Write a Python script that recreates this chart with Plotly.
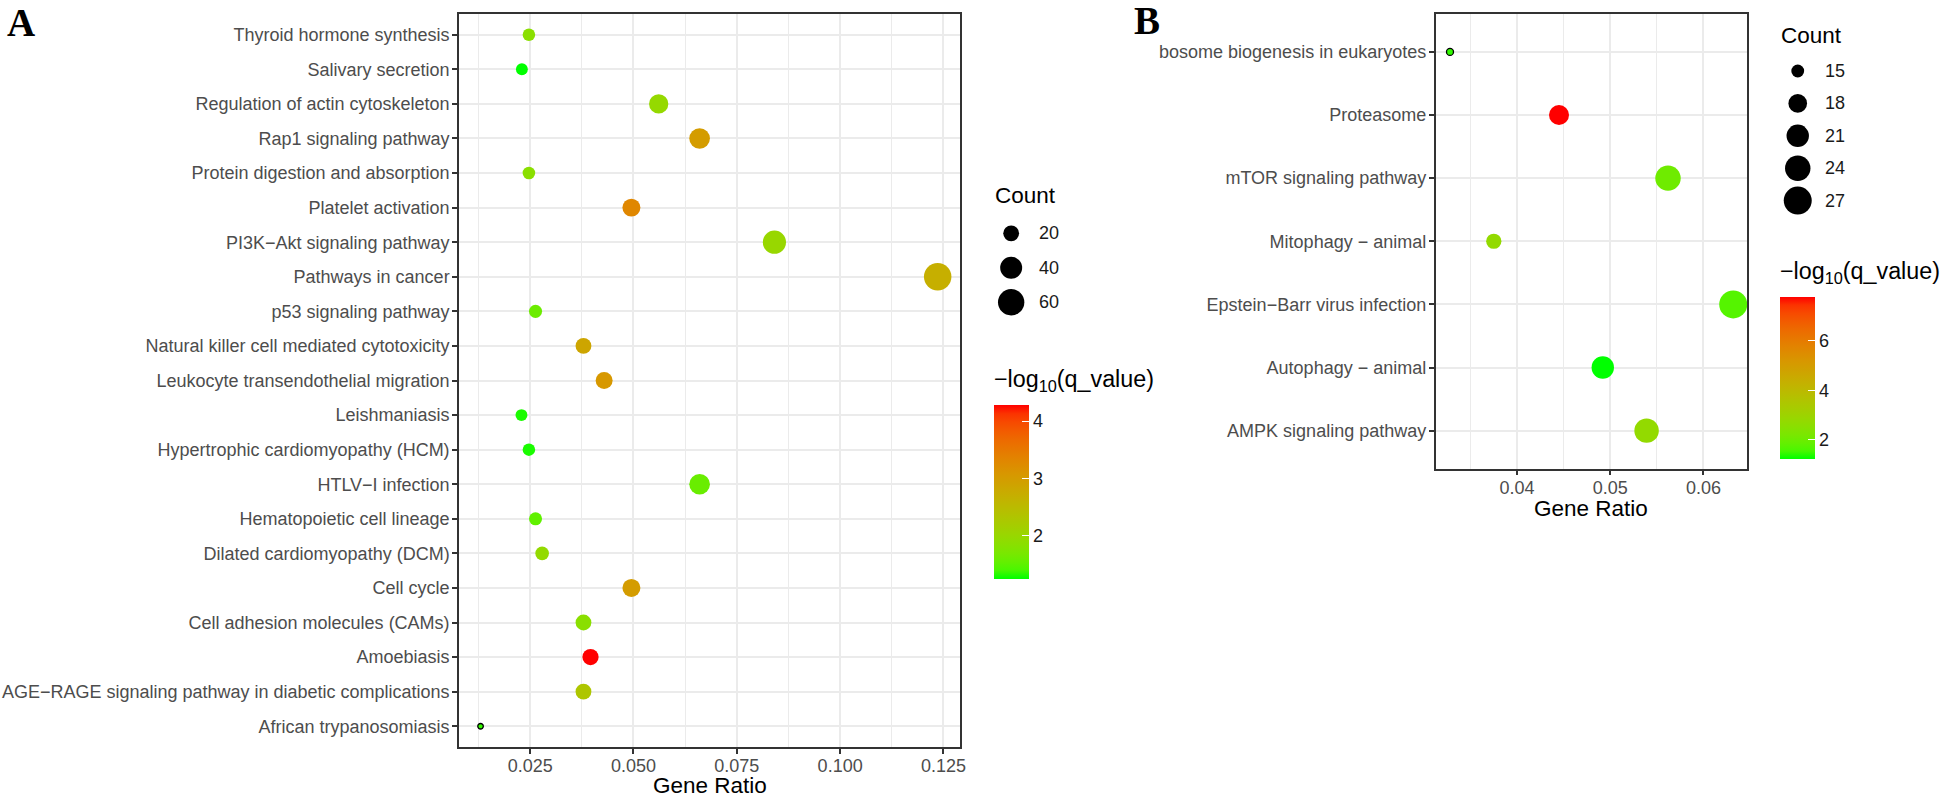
import math
import plotly.graph_objects as go

# ---------------- data ----------------
a_terms = ["Thyroid hormone synthesis", "Salivary secretion", "Regulation of actin cytoskeleton",
           "Rap1 signaling pathway", "Protein digestion and absorption", "Platelet activation",
           "PI3K\u2212Akt signaling pathway", "Pathways in cancer", "p53 signaling pathway",
           "Natural killer cell mediated cytotoxicity", "Leukocyte transendothelial migration",
           "Leishmaniasis", "Hypertrophic cardiomyopathy (HCM)", "HTLV\u2212I infection",
           "Hematopoietic cell lineage", "Dilated cardiomyopathy (DCM)", "Cell cycle",
           "Cell adhesion molecules (CAMs)", "Amoebiasis",
           "AGE\u2212RAGE signaling pathway in diabetic complications", "African trypanosomiasis"]
a_ratio = [0.0247, 0.0230, 0.0561, 0.0660, 0.0247, 0.0495, 0.0841, 0.1236, 0.0263, 0.0379, 0.0429,
           0.0229, 0.0247, 0.0660, 0.0263, 0.0279, 0.0495, 0.0379, 0.0396, 0.0379, 0.0130]
a_count = [13, 12, 30, 35, 13, 26, 45, 66, 14, 20, 23, 12, 13, 35, 14, 15, 26, 20, 21, 20, 7]
a_logq = [1.85, 1.245, 1.97, 3.0, 1.85, 3.3, 2.0, 2.7, 1.6, 2.85, 3.07, 1.3, 1.3, 1.58, 1.52, 1.95,
          3.0, 1.85, 4.28, 2.3, 1.35]
a_size_breaks = [20, 40, 60]
a_color_ticks = [2, 3, 4]
a_x_ticks = [0.025, 0.050, 0.075, 0.100, 0.125]

b_terms = ["bosome biogenesis in eukaryotes", "Proteasome", "mTOR signaling pathway",
           "Mitophagy \u2212 animal", "Epstein\u2212Barr virus infection", "Autophagy \u2212 animal",
           "AMPK signaling pathway"]
b_ratio = [0.0328, 0.0445, 0.0562, 0.0375, 0.0632, 0.0492, 0.0539]
b_count = [14, 19, 24, 16, 27, 21, 23]
b_logq = [1.45, 7.79, 2.05, 2.75, 1.7, 1.23, 2.75]
b_size_breaks = [15, 18, 21, 24, 27]
b_color_ticks = [2, 4, 6]
b_x_ticks = [0.04, 0.05, 0.06]

# ---------------- helpers ----------------
W, H = 1946, 798
FONT = "Liberation Sans, Arial, sans-serif"
TICK_SIZE = 18.0
TITLE_SIZE = 22.5


def fx(px):
    return px / W


def fy(py):
    return 1 - py / H


def _lin(c):
    c = c / 255
    return c / 12.92 if c <= 0.04045 else ((c + 0.055) / 1.055) ** 2.4


def _gam(c):
    c = 12.92 * c if c <= 0.0031308 else 1.055 * c ** (1 / 2.4) - 0.055
    return max(0, min(255, round(c * 255)))


WX, WY, WZ = 0.95047, 1.0, 1.08883


def rgb2lab(rgb):
    r, g, b = [_lin(v) for v in rgb]
    X = 0.4124 * r + 0.3576 * g + 0.1805 * b
    Y = 0.2126 * r + 0.7152 * g + 0.0722 * b
    Z = 0.0193 * r + 0.1192 * g + 0.9505 * b

    def f(t):
        return t ** (1 / 3) if t > 0.008856 else 7.787 * t + 16 / 116
    fx_, fy_, fz_ = f(X / WX), f(Y / WY), f(Z / WZ)
    return 116 * fy_ - 16, 500 * (fx_ - fy_), 200 * (fy_ - fz_)


def lab2rgb(lab):
    L, a, b = lab
    fy_ = (L + 16) / 116
    fx_ = fy_ + a / 500
    fz_ = fy_ - b / 200

    def fi(t):
        return t ** 3 if t ** 3 > 0.008856 else (t - 16 / 116) / 7.787
    X, Y, Z = WX * fi(fx_), WY * fi(fy_), WZ * fi(fz_)
    r = 3.2406 * X - 1.5372 * Y - 0.4986 * Z
    g = -0.9689 * X + 1.8758 * Y + 0.0415 * Z
    bb = 0.0557 * X - 0.2040 * Y + 1.0570 * Z
    return _gam(r), _gam(g), _gam(bb)


lo, hi = rgb2lab((0, 255, 0)), rgb2lab((255, 0, 0))
colorscale = []
for i in range(21):
    t = i / 20
    lab = tuple(lo[k] + (hi[k] - lo[k]) * t for k in range(3))
    r, g, b = lab2rgb(lab)
    colorscale.append([t, f"rgb({r},{g},{b})"])


def sizes(counts, lo_c, hi_c, a, b):
    return [a + b * math.sqrt((c - lo_c) / (hi_c - lo_c)) for c in counts]


fig = go.Figure()

# panel geometry (px)
A_L, A_R, A_T, A_B = 460.4, 963.3, 14, 747
B_L, B_R, B_T, B_B = 1440, 1752.7, 14, 468.5
CB_THICK = 34.7

a_min, a_max = min(a_count), max(a_count)
b_min, b_max = min(b_count), max(b_count)


def cbar(x_px, top_px, len_px, ticks):
    return dict(x=fx(x_px), xanchor="left", y=fy(top_px), yanchor="top",
                len=len_px, lenmode="pixels", thickness=CB_THICK, thicknessmode="pixels",
                xpad=0, ypad=0, outlinewidth=0, tickvals=ticks,
                ticks="inside", ticklen=7, tickcolor="white", tickwidth=1.2,
                tickfont=dict(family=FONT, size=TICK_SIZE, color="#1a1a1a"))


def cbar_left_ticks(x_px, top_px, len_px, ticks, vmin, vmax):
    # white tick marks on the left edge of the colour bar (ggplot style)
    for v in ticks:
        yy = top_px + (vmax - v) / (vmax - vmin) * len_px
        fig.add_shape(type="line", xref="paper", yref="paper",
                      x0=fx(x_px), x1=fx(x_px + 7), y0=fy(yy), y1=fy(yy),
                      line=dict(color="white", width=1.2), layer="above")


fig.add_trace(go.Scatter(
    x=a_ratio, y=a_terms, mode="markers", xaxis="x", yaxis="y", showlegend=False,
    marker=dict(size=sizes(a_count, a_min, a_max, 5.5, 22), color=a_logq, colorscale=colorscale,
                cmin=min(a_logq), cmax=max(a_logq), opacity=1,
                line=dict(color="black", width=[1.3 if c == a_min else 0 for c in a_count]),
                colorbar=cbar(997, 405, 174, a_color_ticks))))
cbar_left_ticks(997, 405, 174, a_color_ticks, min(a_logq), max(a_logq))

fig.add_trace(go.Scatter(
    x=b_ratio, y=b_terms, mode="markers", xaxis="x2", yaxis="y2", showlegend=False,
    marker=dict(size=sizes(b_count, b_min, b_max, 7, 21), color=b_logq, colorscale=colorscale,
                cmin=min(b_logq), cmax=max(b_logq), opacity=1,
                line=dict(color="black", width=[1.3 if c == b_min else 0 for c in b_count]),
                colorbar=cbar(1786, 296.7, 162.3, b_color_ticks))))
cbar_left_ticks(1786, 296.7, 162.3, b_color_ticks, min(b_logq), max(b_logq))


# size legends on an overlay pixel axis
def size_legend(breaks, lo_c, hi_c, a, b, cx, y0, dy, lab_x):
    ys = [y0 + i * dy for i in range(len(breaks))]
    fig.add_trace(go.Scatter(x=[cx] * len(breaks), y=ys, mode="markers", xaxis="x3", yaxis="y3",
                             showlegend=False, hoverinfo="skip",
                             marker=dict(size=sizes(breaks, lo_c, hi_c, a, b), color="black",
                                         opacity=1, line=dict(width=0))))
    for v, yy in zip(breaks, ys):
        fig.add_annotation(x=fx(lab_x), y=fy(yy), xref="paper", yref="paper", text=str(v),
                           showarrow=False, xanchor="left", yanchor="middle",
                           font=dict(family=FONT, size=TICK_SIZE, color="#1a1a1a"))


size_legend(a_size_breaks, a_min, a_max, 5.5, 22, 1014.3, 233.3, 34.5, 1040)
size_legend(b_size_breaks, b_min, b_max, 7, 21, 1803.3, 71, 32.4, 1829)

axis_common = dict(showgrid=True, gridcolor="#ebebeb", gridwidth=2, zeroline=False,
                   showline=True, linecolor="#333333", linewidth=1.5, mirror=True,
                   ticks="outside", ticklen=5, tickwidth=1.5, tickcolor="#333333",
                   tickfont=dict(family=FONT, size=TICK_SIZE, color="#4d4d4d"), fixedrange=True)

n_a, n_b = len(a_terms), len(b_terms)
fig.update_layout(
    width=W, height=H, autosize=False, margin=dict(l=0, r=0, t=0, b=0),
    paper_bgcolor="white", plot_bgcolor="rgba(0,0,0,0)",
    xaxis=dict(domain=[fx(A_L), fx(A_R)], anchor="y", range=[0.00778, 0.12908],
               tickvals=a_x_ticks, ticktext=[f"{v:.3f}" for v in a_x_ticks],
               minor=dict(dtick=0.0125, tick0=0, showgrid=True, gridcolor="#ebebeb", gridwidth=1.1, ticks=""),
               ticklabelstandoff=-3, **axis_common),
    yaxis=dict(domain=[fy(A_B), fy(A_T)], anchor="x", type="category",
               categoryorder="array", categoryarray=a_terms[::-1], range=[-0.6, n_a - 0.4],
               ticklabelstandoff=-1, **axis_common),
    xaxis2=dict(domain=[fx(B_L), fx(B_R)], anchor="y2", range=[0.03125, 0.06471],
                tickvals=b_x_ticks, ticktext=[f"{v:.2f}" for v in b_x_ticks],
                minor=dict(dtick=0.005, tick0=0, showgrid=True, gridcolor="#ebebeb", gridwidth=1.1, ticks=""),
                ticklabelstandoff=-3, **axis_common),
    yaxis2=dict(domain=[fy(B_B), fy(B_T)], anchor="x2", type="category",
                categoryorder="array", categoryarray=b_terms[::-1], range=[-0.6, n_b - 0.4],
                ticklabelstandoff=-1, **axis_common),
    xaxis3=dict(domain=[0, 1], range=[0, W], visible=False, fixedrange=True, anchor="y3"),
    yaxis3=dict(domain=[0, 1], range=[H, 0], visible=False, fixedrange=True, anchor="x3"),
)


def ann(text, x, y, size, xanchor="left", color="black", family=FONT, bold=False):
    fig.add_annotation(x=fx(x), y=fy(y), xref="paper", yref="paper", showarrow=False,
                       text=f"<b>{text}</b>" if bold else text, xanchor=xanchor, yanchor="middle",
                       font=dict(family=family, size=size, color=color))


ann("Gene Ratio", (A_L + A_R) / 2, 785, TITLE_SIZE, xanchor="center")
ann("Gene Ratio", (B_L + B_R) / 2, 508, TITLE_SIZE, xanchor="center")
ann("Count", 996, 195, TITLE_SIZE)
ann("Count", 1785, 35, TITLE_SIZE)
ann("\u2212log<sub>10</sub>(q_value)", 995, 380, 23.3)
ann("\u2212log<sub>10</sub>(q_value)", 1784, 272.7, 23.3)
ann("A", 5, 22, 39, family="Liberation Serif, Times New Roman, serif", bold=True)
ann("B", 1136, 20, 39, family="Liberation Serif, Times New Roman, serif", bold=True)

fig.write_html("out.html", config={"displayModeBar": False},
               post_script="document.body.style.margin='0';")
